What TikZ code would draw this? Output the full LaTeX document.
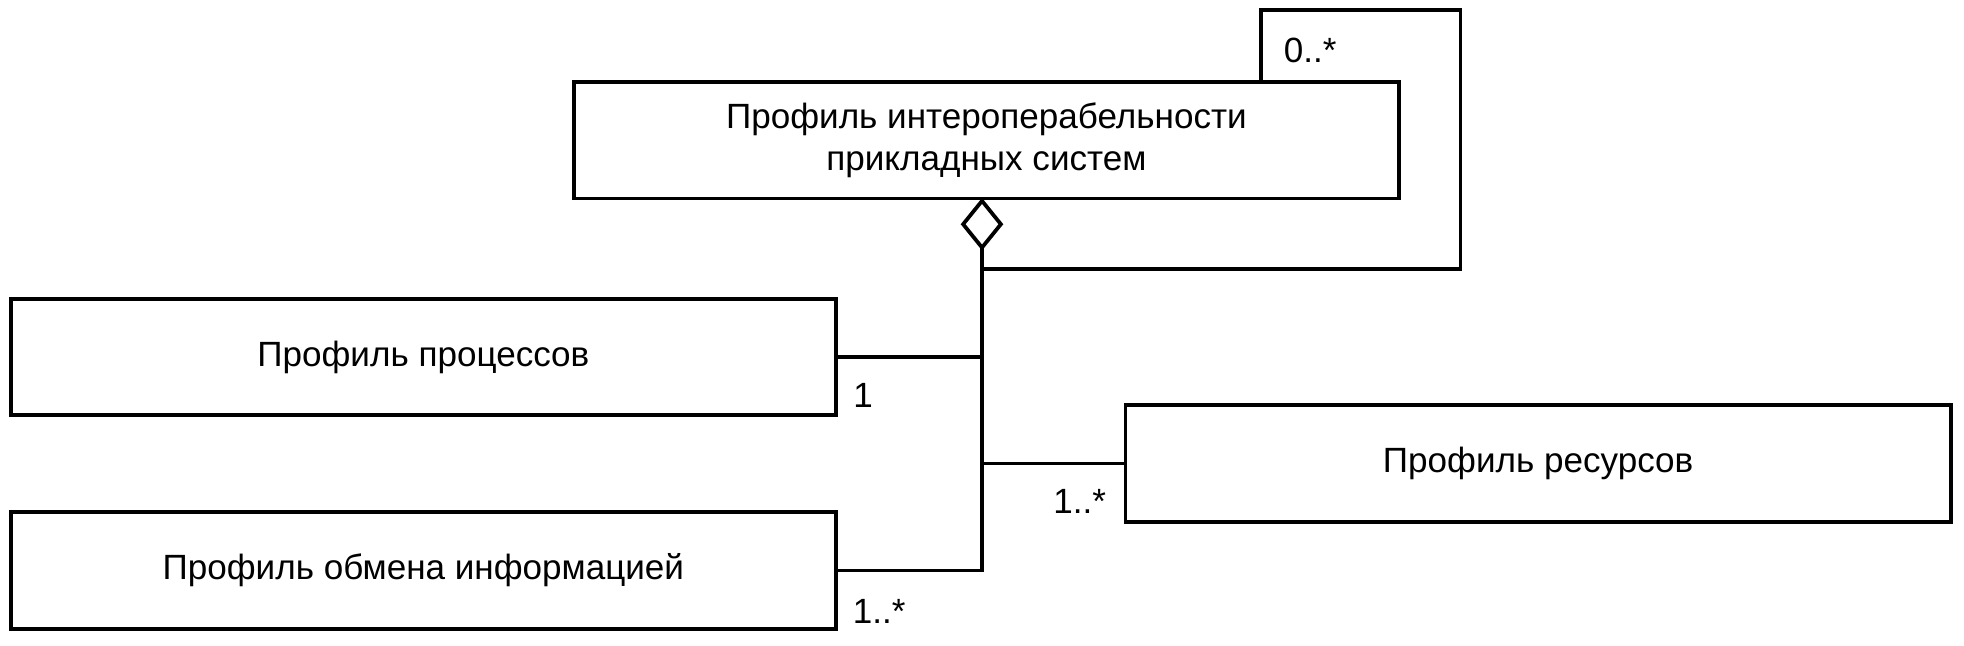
\documentclass[tikz,border=0pt]{standalone}
\usepackage{fontspec}
\setmainfont{Liberation Sans}
\usetikzlibrary{arrows.meta}
\begin{document}
\begin{tikzpicture}[x=1pt,y=-1pt,line width=3pt,
  box/.style={draw,rectangle,minimum width=659pt,minimum height=93pt,align=center,inner sep=0pt,font=\fontsize{28}{34}\selectfont},
  lbl/.style={inner sep=0pt,font=\fontsize{28}{32}\selectfont},
  aggr/.style={-{Diamond[open,length=42pt,width=34pt]}}]
\useasboundingbox (0,0) rectangle (1568,515);
\node[box] (top) at (787.5,112) {Профиль интероперабельности\\прикладных систем};
\node[box] (proc) at (338,285) {Профиль процессов};
\node[box] (res) at (1228,370) {Профиль ресурсов};
\node[box] (info) at (338,455.5) {Профиль обмена информацией};
\coordinate (d) at (784,158);
\coordinate (j) at (784,215);
\coordinate (lr) at (1166,8);
\coordinate (lt) at (1007,66);
\draw[aggr] (j) -- (d);
\draw (j) -| (lr) -| (lt);
\draw (info.east) -| (j);
\draw (proc.east) -- (proc.east -| j);
\draw (res.west) -- (res.west -| j);
\node[lbl] (l0) at (1046,40) {0..*};
\node[lbl] (l1) at (689,316) {1};
\node[lbl] (l2) at (862,400) {1..*};
\node[lbl] (l3) at (702,488) {1..*};
\end{tikzpicture}
\end{document}
